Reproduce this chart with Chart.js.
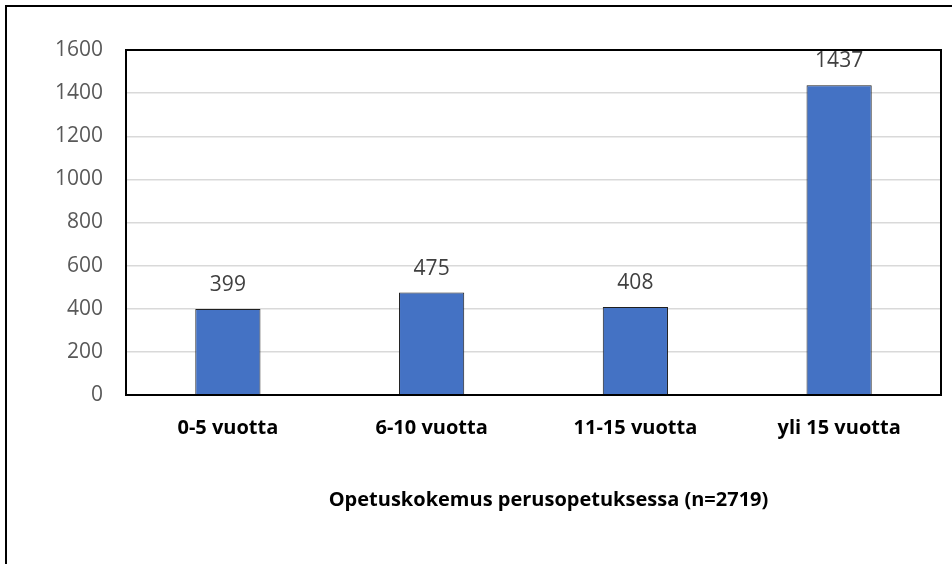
<!DOCTYPE html>
<html>
<head>
<meta charset="utf-8">
<script src="https://cdn.jsdelivr.net/npm/chart.js@4"></script>
<style>
  html, body { margin: 0; padding: 0; background: #fff; }
  canvas { display: block; }
</style>
</head>
<body>
<canvas id="kokemusChart" width="952" height="564"></canvas>
<script>
// Opetuskokemus categories and counts
const categories = ['0-5 vuotta', '6-10 vuotta', '11-15 vuotta', 'yli 15 vuotta'];
const counts = [399, 475, 408, 1437];
const yTicks = [0, 200, 400, 600, 800, 1000, 1200, 1400, 1600];
const axisTitle = 'Opetuskokemus perusopetuksessa (n=2719)';

const FONT = '"Open Sans", Lato, sans-serif';

// Outer frame, the box round the plot area and the x-axis title
const framePlugin = {
    id: 'frame',
    beforeDraw(chart) {
        const ctx = chart.ctx;
        ctx.save();
        ctx.fillStyle = '#000';
        ctx.fillRect(5, 5, chart.width - 5, 2);
        ctx.fillRect(5, 5, 2, chart.height - 5);
        ctx.restore();
    },
    afterDraw(chart) {
        const a = chart.chartArea;
        const ctx = chart.ctx;
        ctx.save();
        ctx.strokeStyle = '#000';
        ctx.lineWidth = 2;
        ctx.strokeRect(a.left, a.top, a.right - a.left, a.bottom - a.top);

        // title sits a little right of the plot centre
        ctx.font = 'bold 20px ' + FONT;
        ctx.fillStyle = '#000';
        ctx.textAlign = 'center';
        ctx.textBaseline = 'middle';
        ctx.fillText(axisTitle, (a.left + a.right) / 2 + 15, a.bottom + 105);
        ctx.restore();
    }
};

// Value labels above each bar
const valueLabels = {
    id: 'valueLabels',
    afterDatasetsDraw(chart) {
        const ctx = chart.ctx;
        const meta = chart.getDatasetMeta(0);
        ctx.save();
        ctx.font = '21px ' + FONT;
        ctx.fillStyle = '#404040';
        ctx.textAlign = 'center';
        ctx.textBaseline = 'middle';
        meta.data.forEach((bar, i) => {
            ctx.fillText(String(counts[i]), bar.x, bar.y - 24);
        });
        ctx.restore();
    }
};

new Chart(document.getElementById('kokemusChart'), {
    type: 'bar',
    data: {
        labels: categories,
        datasets: [{
            data: counts,
            backgroundColor: '#4472C4',
            borderColor: '#1f1f1f',
            borderWidth: 1,
            categoryPercentage: 1,
            barPercentage: 0.32
        }]
    },
    options: {
        responsive: false,
        devicePixelRatio: 1,
        animation: false,
        layout: { padding: { top: 50, right: 11, left: 0, bottom: 0 } },
        plugins: {
            legend: { display: false },
            tooltip: { enabled: false }
        },
        scales: {
            y: {
                min: 0,
                max: 1600,
                afterBuildTicks(scale) {
                    scale.ticks = yTicks.map(v => ({ value: v }));
                },
                afterFit(scale) { scale.width = 126; },
                border: { display: false },
                grid: { color: '#d9d9d9', lineWidth: 1.5, drawTicks: false },
                ticks: {
                    padding: 23,
                    color: '#595959',
                    font: { family: FONT, size: 21 },
                    callback: v => String(v)
                }
            },
            x: {
                afterFit(scale) { scale.height = 169; },
                border: { display: false },
                grid: { display: false, drawTicks: false },
                ticks: {
                    padding: 21,
                    color: '#000',
                    font: { family: FONT, size: 20, weight: 'bold' }
                }
            }
        }
    },
    plugins: [framePlugin, valueLabels]
});
</script>
</body>
</html>
